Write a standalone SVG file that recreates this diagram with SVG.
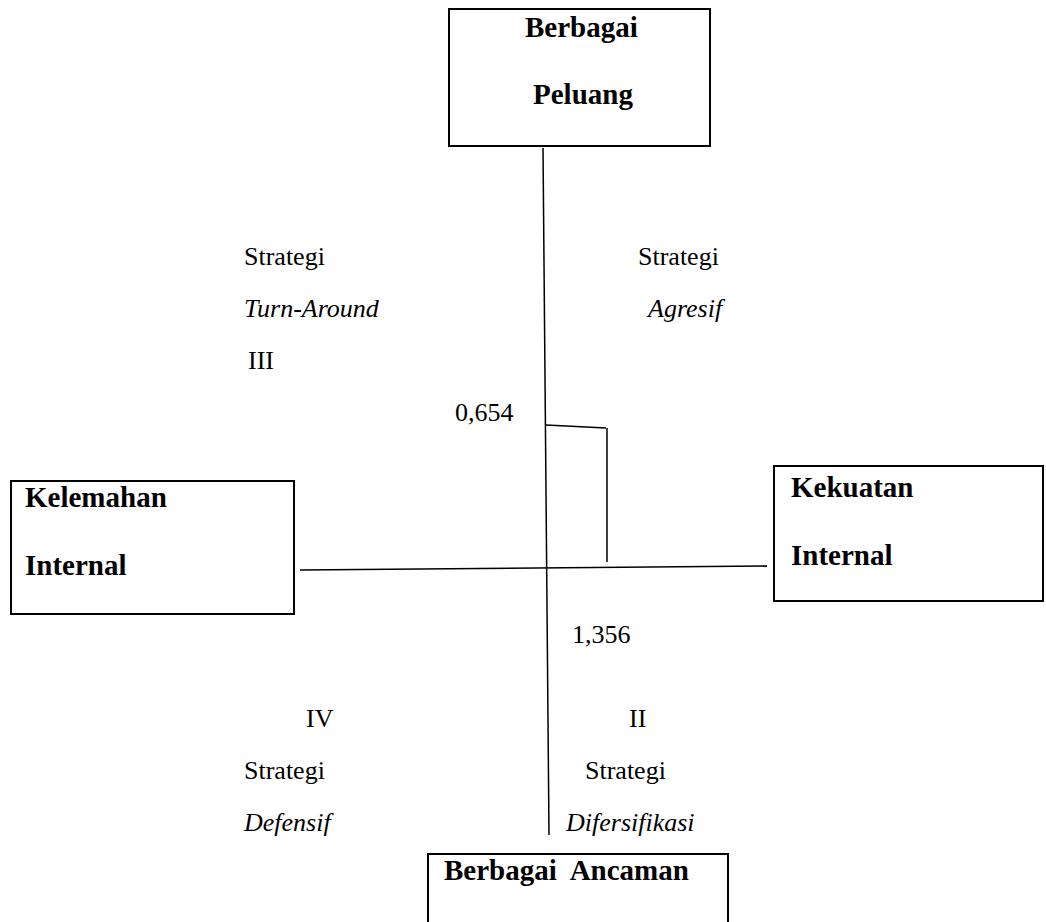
<svg xmlns="http://www.w3.org/2000/svg" width="1046" height="922" viewBox="0 0 1046 922">
<style>
.box{fill:#fff;stroke:#000;stroke-width:2}
.b{font-family:"Liberation Serif","Times New Roman",serif;font-weight:bold;font-size:29px;fill:#000}
.r{font-family:"Liberation Serif","Times New Roman",serif;font-size:26px;fill:#000}
.i{font-style:italic}
.ln{fill:none;stroke:#000;stroke-width:1.5}
</style>
<rect width="1046" height="922" fill="#fff"/>
<g id="connectors">
<line class="ln" x1="543" y1="148" x2="549" y2="835"/>
<line class="ln" x1="300" y1="570" x2="767" y2="566"/>
<polyline class="ln" points="546,425 606,428"/>
<line class="ln" x1="607" y1="428" x2="607" y2="562"/>
</g>
<g id="peluang">
<rect class="box" x="449" y="9" width="261" height="137"/>
<text class="b" x="525" y="37">Berbagai</text>
<text class="b" x="533" y="104">Peluang</text>
</g>
<g id="kelemahan">
<rect class="box" x="11" y="481" width="283" height="133"/>
<text class="b" x="25" y="507">Kelemahan</text>
<text class="b" x="25" y="575">Internal</text>
</g>
<g id="kekuatan">
<rect class="box" x="774" y="466" width="269" height="135"/>
<text class="b" x="791" y="497">Kekuatan</text>
<text class="b" x="791" y="565">Internal</text>
</g>
<g id="ancaman">
<rect class="box" x="428" y="854" width="300" height="80"/>
<text class="b" x="444" y="880" xml:space="preserve">Berbagai  Ancaman</text>
</g>
<g id="q3">
<text class="r" x="244" y="265">Strategi</text>
<text class="r i" x="244" y="317">Turn-Around</text>
<text class="r" x="248" y="369">III</text>
</g>
<g id="q1">
<text class="r" x="638" y="265">Strategi</text>
<text class="r i" x="648" y="317">Agresif</text>
</g>
<g id="values">
<text class="r" x="455" y="421">0,654</text>
<text class="r" x="572" y="643">1,356</text>
</g>
<g id="q4">
<text class="r" x="306" y="727">IV</text>
<text class="r" x="244" y="779">Strategi</text>
<text class="r i" x="244" y="831">Defensif</text>
</g>
<g id="q2">
<text class="r" x="629" y="727">II</text>
<text class="r" x="585" y="779">Strategi</text>
<text class="r i" x="566" y="831">Difersifikasi</text>
</g>
</svg>
